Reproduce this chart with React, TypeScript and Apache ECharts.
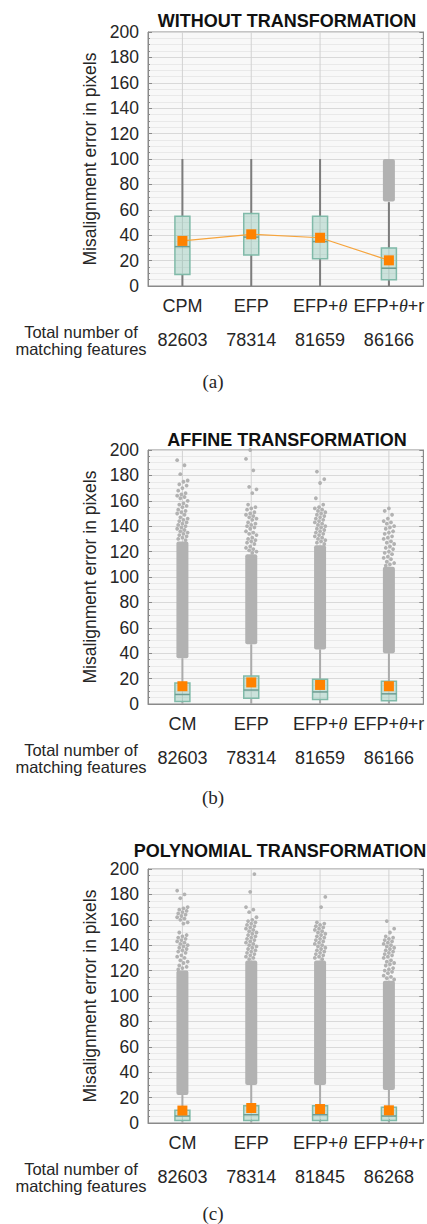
import React, { useEffect, useRef } from "react";
import * as echarts from "echarts";

// ---- data -------------------------------------------------------------
const CATS_A = ["CPM", "EFP", "EFP+θ", "EFP+θ+r"];
const CATS_BC = ["CM", "EFP", "EFP+θ", "EFP+θ+r"];

const TOTALS_A = ["82603", "78314", "81659", "86166"];
const TOTALS_B = ["82603", "78314", "81659", "86166"];
const TOTALS_C = ["82603", "78314", "81845", "86268"];

// [whisker low, Q1, median, Q3, whisker high]
const BOX_A = [
  [0, 9, 31, 55, 100],
  [0, 24.5, 38.5, 57, 100],
  [0, 21.5, 35, 55, 100],
  [0, 5, 14, 30, 66],
];
const BOX_B = [
  [0, 2, 7.5, 16.5, 36],
  [0, 4.5, 11, 22, 47],
  [0, 3.5, 9.5, 19.5, 43],
  [0, 2.5, 8, 18, 40],
];
const BOX_C = [
  [0, 2, 5.5, 10, 22],
  [0, 2, 6.5, 13.5, 30],
  [0, 2, 6.5, 13.5, 30],
  [0, 2, 5.5, 12.5, 26],
];

const MEAN_A = [35.5, 40.7, 38, 20.2];
const MEAN_B = [14, 17, 15, 14];
const MEAN_C = [9.8, 11.8, 11, 10];

// densely packed outlier ranges: [category, from, to]
const DENSE_A = [[3, 66.5, 100]];
const DENSE_B = [
  [0, 36, 128],
  [1, 47, 118],
  [2, 43, 125],
  [3, 40, 108],
];
const DENSE_C = [
  [0, 22, 120],
  [1, 30, 128],
  [2, 30, 128],
  [3, 26, 112],
];

// individual outliers above the dense ranges
const SPARSE_B_CM = [192, 188, 181, 176, 175, 173, 172, 170, 168, 166, 165, 164, 163, 162, 160, 158, 157, 156, 155, 153, 152, 151, 150, 149, 147, 146, 145, 144, 143, 142, 141, 140, 139, 138, 137, 136, 135, 134, 133, 132, 131, 130, 129];
const SPARSE_B_EFP = [200, 193, 184, 171, 169, 166, 157, 155, 154, 153, 151, 150, 149, 148, 147, 146, 145, 143, 142, 141, 140, 139, 138, 136, 135, 134, 133, 131, 130, 129, 128, 127, 126, 124, 123, 122, 121, 120, 119];
const SPARSE_B_EFPT = [183, 177, 174, 162, 157, 155, 154, 153, 152, 151, 150, 149, 148, 147, 146, 145, 144, 143, 142, 141, 140, 139, 138, 137, 136, 135, 134, 133, 132, 131, 130, 129, 128, 127, 126];
const SPARSE_B_EFPTR = [154, 152, 149, 146, 144, 143, 142, 140, 139, 138, 136, 135, 134, 132, 131, 130, 128, 127, 126, 124, 123, 122, 120, 119, 118, 116, 115, 114, 112, 111, 110, 109];

const SPARSE_C_CM = [183, 180, 177, 170, 169, 168, 167, 166, 165, 164, 163, 162, 161, 160, 158, 157, 150, 148, 147, 146, 145, 144, 143, 142, 141, 140, 139, 138, 137, 136, 135, 134, 132, 131, 130, 128, 127, 126, 124, 123, 122, 121];
const SPARSE_C_EFP = [196, 182, 170, 168, 166, 162, 160, 159, 158, 157, 156, 155, 154, 153, 152, 151, 150, 149, 148, 147, 146, 145, 144, 143, 142, 141, 140, 139, 138, 137, 136, 135, 134, 133, 132, 131, 130, 129];
const SPARSE_C_EFPT = [178, 170, 158, 157, 156, 155, 154, 153, 152, 151, 150, 149, 148, 147, 146, 145, 144, 143, 142, 141, 140, 139, 138, 137, 136, 135, 134, 133, 132, 131, 130, 129];
const SPARSE_C_EFPTR = [159, 153, 150, 147, 146, 145, 144, 143, 142, 141, 140, 139, 138, 137, 136, 135, 134, 133, 132, 131, 130, 128, 127, 126, 125, 124, 122, 121, 120, 119, 118, 116, 115, 114, 113];

const Y_MIN = 0;
const Y_MAX = 200;
const Y_STEP = 20;

// ---- styling ----------------------------------------------------------
const FONT = "'Liberation Sans', Arial, sans-serif";
const SERIF = "'Liberation Serif', 'DejaVu Serif', serif";
const TEXT = "#262626";
const AXIS = "#8a8a8a";
const BOX_FILL = "rgba(128, 190, 171, 0.38)";
const BOX_EDGE = "#80baa9";
const MEDIAN = "#6e9c92";
const MEAN_COLOR = "#ff8200";
const OUTLIER = "#b2b2b2";

const PANELS = [
  {
    title: "WITHOUT TRANSFORMATION", titleX: 287, titleY: 21, tag: "(a)", tagGap: 95,
    top: 32, cats: CATS_A, totals: TOTALS_A, box: BOX_A, mean: MEAN_A,
    dense: DENSE_A, sparse: [] as number[][], connect: true, whisker: "#7c7c7c",
  },
  {
    title: "AFFINE TRANSFORMATION", titleX: 287, titleY: 440, tag: "(b)", tagGap: 93,
    top: 450, cats: CATS_BC, totals: TOTALS_B, box: BOX_B, mean: MEAN_B,
    dense: DENSE_B, sparse: [SPARSE_B_CM, SPARSE_B_EFP, SPARSE_B_EFPT, SPARSE_B_EFPTR],
    connect: false, whisker: "#ababab",
  },
  {
    title: "POLYNOMIAL TRANSFORMATION", titleX: 280, titleY: 851, tag: "(c)", tagGap: 90,
    top: 869, cats: CATS_BC, totals: TOTALS_C, box: BOX_C, mean: MEAN_C,
    dense: DENSE_C, sparse: [SPARSE_C_CM, SPARSE_C_EFP, SPARSE_C_EFPT, SPARSE_C_EFPTR],
    connect: false, whisker: "#ababab",
  },
];

const GRID_LEFT = 148;
const GRID_W = 278;
const GRID_H = 254;

function catLabel(s: string) {
  return s
    .split("θ")
    .map((p) => (p ? `{n|${p}}` : ""))
    .join("{t|θ}");
}

function buildOption() {
  const grid: any[] = [];
  const xAxis: any[] = [];
  const yAxis: any[] = [];
  const series: any[] = [];
  const graphic: any[] = [];

  PANELS.forEach((p, k) => {
    grid.push({
      left: GRID_LEFT, top: p.top, width: GRID_W, height: GRID_H,
      show: true, backgroundColor: "#f8f8f8", borderColor: AXIS, borderWidth: 1,
    });

    xAxis.push({
      gridIndex: k, type: "category", data: p.cats, position: "bottom",
      axisLine: { show: true, lineStyle: { color: AXIS } },
      axisTick: { show: true, inside: true, alignWithLabel: true, length: 4, lineStyle: { color: AXIS } },
      splitLine: { show: false },
      axisLabel: {
        interval: 0,
        margin: 11,
        formatter: (v: string) => catLabel(v),
        rich: {
          n: { fontFamily: FONT, fontSize: 18, color: TEXT },
          t: { fontFamily: SERIF, fontStyle: "italic", fontSize: 18, color: TEXT },
        },
      },
    });
    xAxis.push({
      gridIndex: k, type: "category", data: p.totals, position: "bottom", offset: 33,
      axisLine: { show: false }, axisTick: { show: false }, splitLine: { show: false },
      axisLabel: { interval: 0, margin: 12, fontFamily: FONT, fontSize: 18, color: TEXT },
    });

    yAxis.push({
      gridIndex: k, type: "value", min: Y_MIN, max: Y_MAX, interval: Y_STEP, position: "left",
      name: "Misalignment error in pixels", nameLocation: "middle", nameGap: 42,
      nameTextStyle: { fontFamily: FONT, fontSize: 17.5, color: TEXT },
      axisLine: { show: true, lineStyle: { color: AXIS } },
      axisTick: { show: true, inside: true, length: 4, lineStyle: { color: AXIS } },
      minorTick: { show: true, splitNumber: 4, length: 2, lineStyle: { color: AXIS } },
      splitLine: { show: true, lineStyle: { color: "#d9d9d9", width: 1 } },
      minorSplitLine: { show: true, lineStyle: { color: "#e9e9e9", width: 1 } },
      axisLabel: { margin: 9, fontFamily: FONT, fontSize: 17.5, color: TEXT },
    });
    yAxis.push({
      gridIndex: k, type: "value", min: Y_MIN, max: Y_MAX, interval: Y_STEP, position: "right",
      axisLine: { show: true, lineStyle: { color: AXIS } },
      axisTick: { show: true, inside: true, length: 4, lineStyle: { color: AXIS } },
      minorTick: { show: true, splitNumber: 4, length: 2, lineStyle: { color: AXIS } },
      splitLine: { show: false },
      axisLabel: { show: false },
    });

    const xi = k * 2;
    const yi = k * 2;

    // faint vertical guide through each category
    series.push({
      type: "custom", xAxisIndex: xi, yAxisIndex: yi, silent: true, z: 1,
      data: p.cats.map((_, i) => [i]),
      renderItem: (_params: any, api: any) => {
        const a = api.coord([api.value(0), Y_MIN]);
        const b = api.coord([api.value(0), Y_MAX]);
        return { type: "line", shape: { x1: a[0], y1: a[1], x2: b[0], y2: b[1] }, style: { stroke: "#d2d2d2", lineWidth: 1 } };
      },
    });

    // whiskers
    series.push({
      type: "custom", xAxisIndex: xi, yAxisIndex: yi, silent: true, z: 2,
      data: p.box.map((b, i) => [i, ...b]),
      renderItem: (_params: any, api: any) => {
        const i = api.value(0);
        const x = api.coord([i, 0])[0];
        const y = (v: number) => api.coord([i, v])[1];
        const st = { stroke: p.whisker, lineWidth: 2 };
        return {
          type: "group",
          children: [
            { type: "line", shape: { x1: x, y1: y(api.value(1)), x2: x, y2: y(api.value(2)) }, style: st },
            { type: "line", shape: { x1: x, y1: y(api.value(4)), x2: x, y2: y(api.value(5)) }, style: st },
          ],
        };
      },
    });

    // dense outlier columns
    series.push({
      type: "custom", xAxisIndex: xi, yAxisIndex: yi, silent: true, z: 3,
      data: p.dense,
      renderItem: (_params: any, api: any) => {
        const i = api.value(0);
        const lo = api.coord([i, api.value(1)]);
        const hi = api.coord([i, api.value(2)]);
        return {
          type: "rect",
          shape: { x: lo[0] - 6, y: hi[1], width: 12, height: lo[1] - hi[1], r: 2 },
          style: { fill: OUTLIER },
        };
      },
    });

    // individual outliers, spread sideways around the category centre
    const sparse: number[][] = [];
    p.sparse.forEach((vals, i) => vals.forEach((v) => sparse.push([i, v])));
    series.push({
      type: "custom", xAxisIndex: xi, yAxisIndex: yi, silent: true, z: 3,
      data: sparse,
      renderItem: (params: any, api: any) => {
        const c = api.coord([api.value(0), api.value(1)]);
        const dx = (((params.dataIndex * 7) % 11) - 5) * 1.05;
        return { type: "circle", shape: { cx: c[0] + dx, cy: c[1], r: 1.9 }, style: { fill: OUTLIER } };
      },
    });

    // boxes with median
    series.push({
      type: "custom", xAxisIndex: xi, yAxisIndex: yi, silent: true, z: 4,
      data: p.box.map((b, i) => [i, ...b]),
      renderItem: (_params: any, api: any) => {
        const i = api.value(0);
        const x = api.coord([i, 0])[0];
        const y = (v: number) => api.coord([i, v])[1];
        const hw = 7.5;
        const q1 = y(api.value(2));
        const md = y(api.value(3));
        const q3 = y(api.value(4));
        return {
          type: "group",
          children: [
            { type: "rect", shape: { x: x - hw, y: q3, width: hw * 2, height: q1 - q3 }, style: { fill: BOX_FILL, stroke: BOX_EDGE, lineWidth: 1.5 } },
            { type: "line", shape: { x1: x - hw, y1: md, x2: x + hw, y2: md }, style: { stroke: MEDIAN, lineWidth: 1.5 } },
          ],
        };
      },
    });

    // means
    series.push({
      type: "line", xAxisIndex: xi, yAxisIndex: yi, z: 6, silent: true,
      data: p.mean,
      symbol: "rect", symbolSize: 10,
      itemStyle: { color: MEAN_COLOR },
      lineStyle: { color: "#f6a43c", width: 1.2, opacity: p.connect ? 1 : 0 },
    });

    const bottom = p.top + GRID_H;
    graphic.push(
      {
        type: "text", x: p.titleX, y: p.titleY,
        style: { text: p.title, fontFamily: FONT, fontWeight: "bold", fontSize: 18, fill: "#111", textAlign: "center", textVerticalAlign: "middle" },
      },
      {
        type: "text", x: 81, y: bottom + 45.5,
        style: { text: "Total number of", fontFamily: FONT, fontSize: 16.5, fill: TEXT, textAlign: "center", textVerticalAlign: "middle" },
      },
      {
        type: "text", x: 81, y: bottom + 62.5,
        style: { text: "matching features", fontFamily: FONT, fontSize: 16.5, fill: TEXT, textAlign: "center", textVerticalAlign: "middle" },
      },
      {
        type: "text", x: 213, y: bottom + p.tagGap,
        style: { text: p.tag, fontFamily: SERIF, fontSize: 19, fill: TEXT, textAlign: "center", textVerticalAlign: "middle" },
      }
    );
  });

  return {
    animation: false,
    backgroundColor: "#ffffff",
    grid,
    xAxis,
    yAxis,
    series,
    graphic,
  };
}

export default function App() {
  const ref = useRef<HTMLDivElement>(null);
  useEffect(() => {
    document.body.style.margin = "0";
    const chart = echarts.init(ref.current as HTMLDivElement, null, { renderer: "svg" });
    chart.setOption(buildOption() as any);
    return () => chart.dispose();
  }, []);
  return <div ref={ref} style={{ width: 427, height: 1224 }} />;
}
